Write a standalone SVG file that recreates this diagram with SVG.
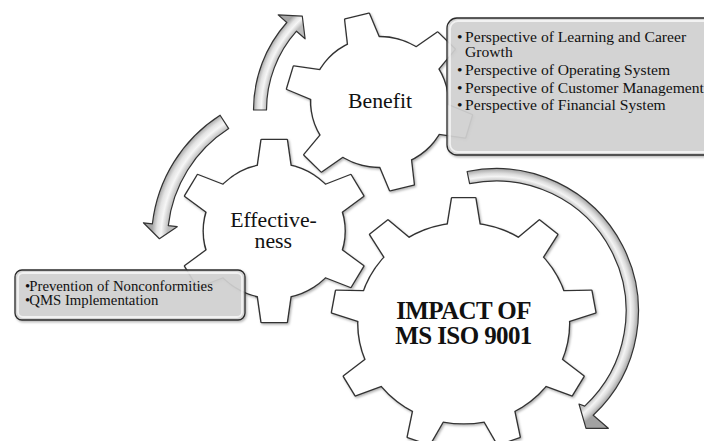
<svg xmlns="http://www.w3.org/2000/svg" width="704" height="441" viewBox="0 0 704 441">
  <style>
    .gear-line { fill: none; stroke: #333; stroke-width: 2.6; stroke-linejoin: round; }
    .gear-face { fill: #fff; stroke: none; }
    .label { font-family: "Liberation Serif", "Times New Roman", serif; fill: #111; }
    .gear-label { font-size: 20px; text-anchor: middle; }
    .title { font-size: 25px; font-weight: bold; text-anchor: middle; letter-spacing: -0.6px; }
    .note { font-size: 14.6px; }
    .note-sm { font-size: 13.8px; }
    .box { fill: #d3d3d3; fill-opacity: 0.9; stroke: #2b2b2b; stroke-width: 1.3; }
    .bevel { fill: none; stroke: #fff; stroke-width: 1.8; stroke-opacity: 0.7; }
    .arrow { stroke: #333; stroke-width: 1.2; stroke-linejoin: round; }
  </style>
  <defs>
    <filter id="soft" x="-10%" y="-10%" width="125%" height="125%">
      <feDropShadow dx="1.2" dy="1.5" stdDeviation="1.2" flood-color="#000" flood-opacity="0.3"/>
    </filter>
    <!-- tooth outlines, pointing up from the gear centre -->
    <polygon id="tooth9" points="-16.7,-88 -11,-125 11,-125 16.7,-88"/>
    <polygon id="tooth6" points="-16.9,-55 -12,-91 12,-91 16.9,-55"/>
    <g id="gear9">
      <circle r="100"/>
      <use href="#tooth9"/>
      <use href="#tooth9" transform="rotate(40)"/>
      <use href="#tooth9" transform="rotate(80)"/>
      <use href="#tooth9" transform="rotate(120)"/>
      <use href="#tooth9" transform="rotate(160)"/>
      <use href="#tooth9" transform="rotate(200)"/>
      <use href="#tooth9" transform="rotate(240)"/>
      <use href="#tooth9" transform="rotate(280)"/>
      <use href="#tooth9" transform="rotate(320)"/>
    </g>
    <g id="gear6">
      <circle r="67"/>
      <use href="#tooth6"/>
      <use href="#tooth6" transform="rotate(60)"/>
      <use href="#tooth6" transform="rotate(120)"/>
      <use href="#tooth6" transform="rotate(180)"/>
      <use href="#tooth6" transform="rotate(240)"/>
      <use href="#tooth6" transform="rotate(300)"/>
    </g>
    <!-- tube shading that follows each arrow's curve -->
    <radialGradient id="shadeA" gradientUnits="userSpaceOnUse" cx="385" cy="110" r="143">
      <stop offset="0.829" stop-color="#bcbcbc"/>
      <stop offset="0.865" stop-color="#f6f6f6"/>
      <stop offset="0.89" stop-color="#e2e2e2"/>
      <stop offset="0.92" stop-color="#a6a6a6"/>
    </radialGradient>
    <radialGradient id="shadeB" gradientUnits="userSpaceOnUse" cx="300.4" cy="240.7" r="160">
      <stop offset="0.831" stop-color="#bcbcbc"/>
      <stop offset="0.872" stop-color="#f6f6f6"/>
      <stop offset="0.9" stop-color="#e2e2e2"/>
      <stop offset="0.931" stop-color="#a6a6a6"/>
    </radialGradient>
    <radialGradient id="shadeC" gradientUnits="userSpaceOnUse" cx="496" cy="311" r="165">
      <stop offset="0.788" stop-color="#c4c4c4"/>
      <stop offset="0.815" stop-color="#f4f4f4"/>
      <stop offset="0.835" stop-color="#dcdcdc"/>
      <stop offset="0.864" stop-color="#a2a2a2"/>
    </radialGradient>
  </defs>

  <rect width="704" height="441" fill="#fff"/>

  <!-- main gear -->
  <g id="impact">
    <g filter="url(#soft)">
      <g transform="translate(463.7,323.3) scale(1.053,1)">
        <use href="#gear9" class="gear-line"/>
        <use href="#gear9" class="gear-face"/>
      </g>
    </g>
    <text class="label title" x="463.5" y="318.5">IMPACT OF</text>
    <text class="label title" x="463.5" y="343.5">MS ISO 9001</text>
  </g>

  <!-- Benefit gear -->
  <g id="benefit">
    <g filter="url(#soft)">
      <g transform="translate(379.5,102) scale(1.018,0.967) rotate(-14)">
        <use href="#gear6" class="gear-line"/>
        <use href="#gear6" class="gear-face"/>
      </g>
    </g>
    <text class="label gear-label" transform="translate(380,108.3) scale(1.09,1)">Benefit</text>
  </g>

  <!-- Effectiveness gear -->
  <g id="effectiveness">
    <g filter="url(#soft)">
      <g transform="translate(274.2,231) scale(1.05,1)">
        <use href="#gear6" class="gear-line"/>
        <use href="#gear6" class="gear-face"/>
      </g>
    </g>
    <text class="label gear-label" transform="translate(273.5,226.5) scale(1.09,1)">Effective-</text>
    <text class="label gear-label" transform="translate(273.3,248) scale(1.09,1)">ness</text>
  </g>

  <!-- Benefit details -->
  <g id="benefit-notes">
    <rect class="box" x="447" y="18" width="272" height="137" rx="10" filter="url(#soft)"/>
    <rect class="bevel" x="450" y="21" width="266" height="131" rx="8"/>
    <g class="label note" transform="translate(457,0) scale(1.07,1)">
      <text x="0" y="42.5">•</text>
      <text x="7.5" y="42.5">Perspective of Learning and Career</text>
      <text x="7.5" y="57.5">Growth</text>
      <text x="0" y="75.5">•</text>
      <text x="7.5" y="75.5">Perspective of Operating System</text>
      <text x="0" y="93">•</text>
      <text x="7.5" y="93">Perspective of Customer Management</text>
      <text x="0" y="110.5">•</text>
      <text x="7.5" y="110.5">Perspective of Financial System</text>
    </g>
  </g>

  <!-- Effectiveness details -->
  <g id="effectiveness-notes">
    <rect class="box" x="15" y="270" width="230" height="50" rx="7" filter="url(#soft)"/>
    <rect class="bevel" x="18" y="273" width="224" height="44" rx="5"/>
    <g class="label note-sm" transform="translate(25,0) scale(1.07,1)">
      <text x="0" y="290.7">•</text>
      <text x="4" y="290.7">Prevention of Nonconformities</text>
      <text x="0" y="305">•</text>
      <text x="4" y="305">QMS Implementation</text>
    </g>
  </g>

  <!-- curved arrows between the gears -->
  <g id="connectors">
    <path class="arrow" fill="url(#shadeA)" d="M253.5,110 A131.5,131.5 0 0 1 286.8,22.5 L278.2,14.9 L302.3,16.2 L305.1,38.8 L296.5,31.2 A118.5,118.5 0 0 0 266.5,110 Z"/>
    <path class="arrow" fill="url(#shadeB)" d="M220.1,115.2 A149,149 0 0 0 152.4,223.8 L143.4,222.8 L159.4,238.7 L177.2,226.7 L168.3,225.6 A133,133 0 0 1 228.7,128.6 Z"/>
    <path class="arrow" fill="url(#shadeC)" d="M467.1,171.5 A142.5,142.5 0 0 1 593.2,415.2 L608.3,428.3 L586,428.3 L579,404 L584.7,406.1 A130,130 0 0 0 469.6,183.7 Z"/>
  </g>
</svg>
